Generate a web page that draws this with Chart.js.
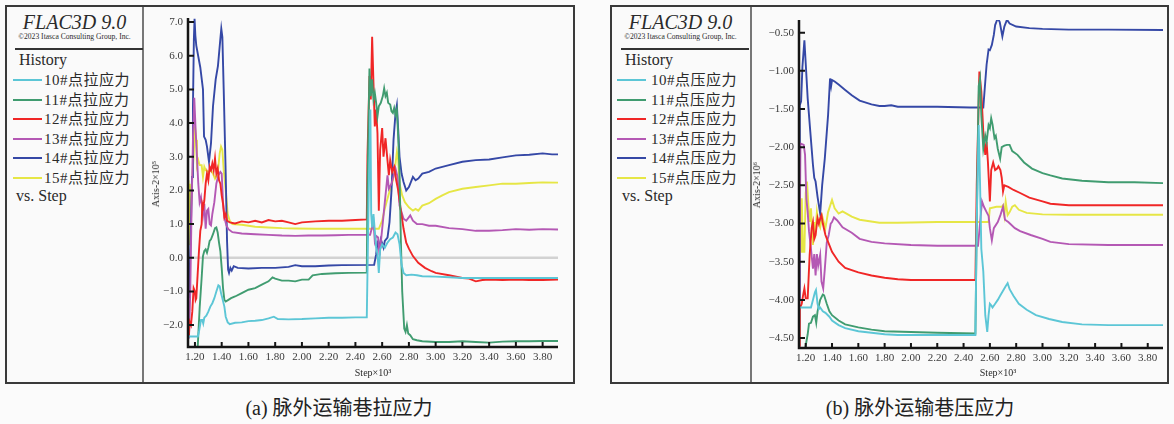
<!DOCTYPE html>
<html lang="zh">
<head>
<meta charset="utf-8">
<title>脉外运输巷应力 - FLAC3D History</title>
<script src="https://cdn.jsdelivr.net/npm/chart.js@4.4.1/dist/chart.umd.min.js"></script>
<style>
  body { margin: 0; width: 1174px; height: 424px; background: #fbfbfb; position: relative; overflow: hidden;
         font-family: "Liberation Serif", "Noto Sans CJK SC", serif; color: #2a2a2a; }
  .abs { position: absolute; white-space: nowrap; }
  .box { position: absolute; top: 5px; height: 379px; box-sizing: border-box; border: 2px solid #3a3a3a; background: #fafafa; }
  .divider { position: absolute; top: 7px; width: 1.5px; height: 375px; background: #777; }
  canvas { position: absolute; }
  .caption { position: absolute; top: 396px; font-size: 20px; line-height: 24px; font-family: "Liberation Serif", "Noto Sans CJK SC", serif; color: #222; transform: translateX(-50%); }
</style>
</head>
<body>

<!-- panel (a) -->
<div class="box" style="left:5px; width:570px;"></div>
<div class="divider" style="left:142px;"></div>
<canvas id="tensionChart" width="431" height="377" style="left:143px; top:6px;"></canvas>

<!-- panel (b) -->
<div class="box" style="left:610px; width:559px;"></div>
<div class="divider" style="left:750px;"></div>
<canvas id="compressChart" width="417" height="377" style="left:751px; top:6px;"></canvas>

<div class="caption" style="left:339px;">(a) 脉外运输巷拉应力</div>
<div class="caption" style="left:920px;">(b) 脉外运输巷压应力</div>

<script>
// ---- data (steps in 10^3, values in axis units) ----
const pointIds = ['10#', '11#', '12#', '13#', '14#', '15#'];
const lineColors = ['#5cc6d6', '#409c70', '#f02626', '#b458b4', '#3548a6', '#e6e645'];

const stepTicks = [1.2, 1.4, 1.6, 1.8, 2.0, 2.2, 2.4, 2.6, 2.8, 3.0, 3.2, 3.4, 3.6, 3.8];
const tensionTicks = [-2, -1, 0, 1, 2, 3, 4, 5, 6, 7];
const compressTicks = [-4.5, -4, -3.5, -3, -2.5, -2, -1.5, -1, -0.5];

// 拉应力 (x10^5)
const tension10 = [[1.148,-2.34],[1.222,-2.34],[1.232,-2.15],[1.245,-1.85],[1.255,-1.85],[1.262,-1.95],[1.27,-1.78],[1.285,-1.72],[1.30,-1.6],[1.315,-1.45],[1.33,-1.35],[1.345,-1.2],[1.36,-1.0],[1.375,-0.82],[1.385,-0.85],[1.395,-1.05],[1.405,-1.2],[1.42,-1.45],[1.43,-1.75],[1.445,-1.92],[1.46,-1.97],[1.50,-1.93],[1.55,-1.92],[1.60,-1.88],[1.65,-1.87],[1.70,-1.85],[1.75,-1.8],[1.79,-1.75],[1.82,-1.82],[1.90,-1.83],[2.00,-1.82],[2.10,-1.8],[2.20,-1.78],[2.30,-1.78],[2.40,-1.77],[2.485,-1.77],[2.49,-0.5],[2.50,2.0],[2.512,4.4],[2.518,1.3],[2.525,0.9],[2.535,1.3],[2.545,0.8],[2.555,0.3],[2.565,0.1],[2.575,-0.45],[2.585,0.25],[2.60,0.4],[2.62,0.3],[2.64,0.45],[2.66,0.55],[2.68,0.6],[2.70,0.75],[2.715,0.7],[2.73,0.4],[2.745,-0.2],[2.76,-0.45],[2.78,-0.52],[2.82,-0.5],[2.86,-0.52],[2.90,-0.55],[3.0,-0.56],[3.1,-0.58],[3.2,-0.6],[3.4,-0.6],[3.6,-0.6],[3.8,-0.6],[3.915,-0.6]];
const tension11 = [[1.15,-3.0],[1.205,-3.0],[1.22,-2.7],[1.235,-1.5],[1.25,-0.6],[1.26,0.05],[1.27,0.2],[1.28,0.25],[1.29,0.15],[1.30,0.3],[1.31,0.5],[1.32,0.55],[1.335,0.7],[1.35,0.88],[1.36,0.9],[1.37,0.75],[1.38,0.45],[1.39,0.2],[1.40,-0.3],[1.41,-0.9],[1.42,-1.25],[1.43,-1.3],[1.45,-1.25],[1.47,-1.2],[1.50,-1.15],[1.55,-1.05],[1.60,-0.95],[1.65,-0.9],[1.70,-0.8],[1.75,-0.7],[1.78,-0.58],[1.80,-0.62],[1.85,-0.68],[1.90,-0.68],[1.95,-0.7],[2.0,-0.65],[2.05,-0.65],[2.08,-0.52],[2.15,-0.48],[2.25,-0.46],[2.35,-0.45],[2.485,-0.44],[2.49,2.0],[2.505,5.62],[2.515,4.8],[2.525,5.3],[2.535,4.7],[2.545,4.9],[2.555,4.6],[2.565,4.2],[2.575,4.5],[2.59,4.6],[2.605,4.8],[2.615,5.03],[2.625,4.8],[2.635,4.9],[2.645,4.6],[2.66,4.55],[2.67,4.35],[2.68,4.3],[2.69,4.45],[2.70,4.25],[2.71,4.4],[2.72,3.6],[2.73,2.5],[2.74,0.5],[2.75,-1.0],[2.765,-2.1],[2.775,-2.2],[2.785,-2.0],[2.795,-2.25],[2.81,-2.3],[2.83,-2.42],[2.86,-2.45],[2.90,-2.48],[3.0,-2.5],[3.1,-2.5],[3.2,-2.48],[3.3,-2.5],[3.4,-2.52],[3.5,-2.49],[3.6,-2.48],[3.7,-2.48],[3.8,-2.47],[3.915,-2.47]];
const tension12 = [[1.148,-2.0],[1.155,-2.3],[1.16,-1.9],[1.17,-2.0],[1.18,-1.6],[1.19,-0.9],[1.20,-1.0],[1.205,-1.25],[1.21,-1.2],[1.22,-0.5],[1.23,0.2],[1.24,0.8],[1.25,1.0],[1.255,1.6],[1.262,1.5],[1.27,1.7],[1.28,2.2],[1.29,2.5],[1.30,2.3],[1.31,2.7],[1.32,2.6],[1.33,2.8],[1.34,2.6],[1.35,2.95],[1.36,2.5],[1.37,2.65],[1.38,2.3],[1.39,2.2],[1.40,1.85],[1.41,1.6],[1.42,1.2],[1.43,1.3],[1.44,1.1],[1.46,1.05],[1.50,1.02],[1.55,1.08],[1.60,1.05],[1.65,1.1],[1.70,1.05],[1.75,1.12],[1.80,1.08],[1.85,1.1],[1.90,1.05],[1.95,1.0],[2.0,1.05],[2.1,1.08],[2.2,1.1],[2.3,1.1],[2.4,1.12],[2.485,1.14],[2.49,3.0],[2.505,5.4],[2.515,4.7],[2.525,6.56],[2.535,5.2],[2.545,3.9],[2.555,4.4],[2.565,3.7],[2.575,1.4],[2.585,3.2],[2.60,3.85],[2.61,3.0],[2.625,3.55],[2.635,3.1],[2.65,2.45],[2.66,2.9],[2.675,2.55],[2.69,2.7],[2.705,2.3],[2.72,2.0],[2.74,1.4],[2.76,0.86],[2.78,0.45],[2.80,0.27],[2.83,0.05],[2.87,-0.15],[2.92,-0.3],[2.97,-0.4],[3.0,-0.45],[3.1,-0.52],[3.2,-0.6],[3.25,-0.62],[3.30,-0.7],[3.35,-0.66],[3.4,-0.65],[3.5,-0.66],[3.6,-0.65],[3.7,-0.66],[3.8,-0.66],[3.915,-0.65]];
const tension13 = [[1.148,-1.8],[1.155,-2.4],[1.165,-1.0],[1.175,1.5],[1.185,3.5],[1.195,4.75],[1.205,3.8],[1.215,3.0],[1.225,2.2],[1.235,1.65],[1.245,1.8],[1.26,1.26],[1.27,1.6],[1.28,0.86],[1.29,1.4],[1.30,1.45],[1.31,1.0],[1.32,0.96],[1.33,1.3],[1.345,1.65],[1.36,2.2],[1.375,2.45],[1.39,2.55],[1.40,2.5],[1.41,1.65],[1.42,1.2],[1.435,0.96],[1.45,0.85],[1.48,0.76],[1.55,0.72],[1.65,0.7],[1.75,0.68],[1.85,0.66],[1.95,0.65],[2.05,0.66],[2.15,0.66],[2.25,0.67],[2.35,0.68],[2.51,0.68],[2.535,1.06],[2.545,0.5],[2.555,0.65],[2.57,0.6],[2.58,0.07],[2.60,0.85],[2.62,1.65],[2.64,2.45],[2.65,2.05],[2.67,2.2],[2.70,2.65],[2.715,2.4],[2.73,1.55],[2.76,1.16],[2.78,1.1],[2.81,1.26],[2.83,1.1],[2.86,1.0],[2.90,1.0],[2.95,0.95],[3.0,0.95],[3.1,0.88],[3.2,0.85],[3.3,0.8],[3.4,0.8],[3.5,0.82],[3.6,0.85],[3.7,0.83],[3.8,0.85],[3.915,0.84]];
const tension14 = [[1.148,-0.5],[1.155,-1.2],[1.16,-0.6],[1.17,1.0],[1.178,2.4],[1.185,4.5],[1.192,6.5],[1.197,7.1],[1.203,6.6],[1.21,6.3],[1.24,5.65],[1.26,5.0],[1.268,3.6],[1.28,3.5],[1.29,3.3],[1.305,2.85],[1.32,3.4],[1.335,4.5],[1.355,5.3],[1.372,5.7],[1.39,6.5],[1.397,6.8],[1.405,6.55],[1.415,5.0],[1.43,2.5],[1.44,0.5],[1.448,-0.35],[1.455,-0.45],[1.465,-0.3],[1.475,-0.38],[1.49,-0.25],[1.52,-0.3],[1.60,-0.32],[1.70,-0.3],[1.80,-0.3],[1.90,-0.27],[1.95,-0.22],[2.0,-0.25],[2.1,-0.25],[2.2,-0.23],[2.3,-0.22],[2.54,-0.21],[2.555,0.1],[2.565,0.46],[2.58,0.35],[2.59,0.55],[2.61,0.3],[2.62,0.5],[2.64,0.6],[2.655,1.06],[2.67,2.0],[2.685,3.5],[2.70,4.3],[2.71,4.53],[2.72,3.8],[2.73,3.0],[2.745,2.5],[2.76,2.25],[2.78,2.0],[2.80,2.1],[2.83,2.4],[2.85,2.3],[2.87,2.35],[2.90,2.5],[2.95,2.55],[3.0,2.65],[3.1,2.75],[3.2,2.85],[3.3,2.9],[3.4,2.92],[3.5,2.98],[3.6,3.04],[3.7,3.06],[3.8,3.1],[3.87,3.07],[3.915,3.07]];
const tension15 = [[1.148,1.0],[1.152,2.3],[1.156,0.4],[1.162,2.2],[1.17,1.4],[1.18,2.4],[1.19,3.0],[1.20,3.9],[1.21,3.5],[1.215,2.75],[1.225,2.9],[1.235,2.75],[1.25,2.75],[1.26,2.4],[1.27,2.7],[1.28,2.6],[1.30,2.55],[1.32,2.6],[1.335,2.5],[1.35,2.35],[1.37,2.5],[1.385,3.1],[1.395,3.3],[1.405,3.2],[1.415,2.6],[1.43,2.0],[1.445,1.3],[1.46,1.1],[1.48,1.0],[1.55,0.98],[1.65,0.92],[1.75,0.9],[1.85,0.88],[1.95,0.87],[2.1,0.86],[2.3,0.86],[2.575,0.86],[2.60,1.1],[2.62,1.46],[2.65,1.9],[2.68,2.3],[2.70,2.8],[2.71,3.14],[2.72,2.9],[2.73,2.2],[2.75,1.85],[2.77,1.65],[2.80,1.5],[2.83,1.4],[2.85,1.45],[2.87,1.4],[2.90,1.55],[2.95,1.62],[3.0,1.75],[3.05,1.85],[3.1,1.95],[3.2,2.05],[3.3,2.1],[3.4,2.15],[3.5,2.2],[3.6,2.2],[3.7,2.22],[3.8,2.24],[3.915,2.23]];

// 压应力 (x10^6)
const compress10 = [[1.149,-4.1],[1.24,-4.1],[1.255,-4.0],[1.27,-3.9],[1.278,-3.87],[1.29,-4.05],[1.30,-4.12],[1.31,-4.1],[1.33,-4.15],[1.35,-4.17],[1.38,-4.22],[1.40,-4.27],[1.45,-4.33],[1.50,-4.37],[1.60,-4.41],[1.70,-4.43],[1.80,-4.45],[1.90,-4.46],[2.0,-4.46],[2.2,-4.46],[2.4,-4.46],[2.49,-4.46],[2.50,-3.0],[2.515,-1.71],[2.525,-2.45],[2.535,-3.33],[2.55,-3.63],[2.565,-4.2],[2.58,-4.42],[2.59,-4.2],[2.60,-4.05],[2.61,-4.07],[2.62,-4.1],[2.64,-4.05],[2.66,-4.0],[2.68,-3.94],[2.70,-3.88],[2.72,-3.82],[2.735,-3.78],[2.75,-3.86],[2.78,-3.95],[2.82,-4.05],[2.88,-4.13],[2.95,-4.2],[3.05,-4.25],[3.15,-4.29],[3.3,-4.32],[3.5,-4.33],[3.7,-4.33],[3.916,-4.33]];
const compress11 = [[1.149,-4.8],[1.19,-4.8],[1.20,-4.6],[1.215,-4.45],[1.225,-4.31],[1.24,-4.3],[1.255,-4.22],[1.27,-4.2],[1.28,-4.3],[1.29,-4.15],[1.31,-4.0],[1.33,-3.93],[1.34,-3.94],[1.36,-4.05],[1.38,-4.15],[1.40,-4.2],[1.45,-4.27],[1.50,-4.32],[1.60,-4.36],[1.70,-4.39],[1.80,-4.41],[2.0,-4.42],[2.2,-4.43],[2.49,-4.44],[2.50,-3.0],[2.515,-1.2],[2.525,-1.1],[2.535,-1.58],[2.55,-2.02],[2.565,-1.85],[2.575,-1.93],[2.59,-1.71],[2.60,-1.75],[2.61,-1.62],[2.62,-1.7],[2.635,-1.88],[2.645,-1.85],[2.66,-2.02],[2.678,-2.15],[2.69,-2.0],[2.71,-1.98],[2.73,-1.97],[2.75,-1.97],[2.77,-2.05],[2.81,-2.1],[2.86,-2.2],[2.92,-2.28],[3.0,-2.34],[3.06,-2.37],[3.15,-2.41],[3.3,-2.44],[3.5,-2.46],[3.7,-2.46],[3.916,-2.47]];
const compress12 = [[1.149,-4.6],[1.155,-4.11],[1.17,-4.05],[1.18,-3.94],[1.19,-3.85],[1.20,-3.98],[1.215,-3.98],[1.23,-3.41],[1.245,-3.06],[1.255,-2.98],[1.265,-3.2],[1.275,-3.15],[1.29,-2.93],[1.30,-3.0],[1.31,-2.93],[1.32,-2.89],[1.33,-3.0],[1.35,-3.15],[1.37,-3.24],[1.40,-3.37],[1.45,-3.5],[1.50,-3.58],[1.60,-3.64],[1.70,-3.68],[1.80,-3.71],[1.90,-3.73],[2.0,-3.74],[2.2,-3.74],[2.49,-3.74],[2.50,-2.5],[2.52,-1.01],[2.535,-1.27],[2.55,-1.8],[2.565,-2.1],[2.575,-1.93],[2.585,-2.19],[2.60,-2.71],[2.61,-2.3],[2.625,-2.2],[2.64,-2.3],[2.655,-2.28],[2.665,-2.25],[2.68,-2.3],[2.69,-2.4],[2.70,-2.58],[2.71,-2.5],[2.74,-2.52],[2.78,-2.56],[2.83,-2.6],[2.90,-2.66],[3.0,-2.71],[3.06,-2.74],[3.2,-2.76],[3.5,-2.76],[3.916,-2.76]];
const compress13 = [[1.149,-4.6],[1.16,-1.95],[1.185,-1.97],[1.195,-2.1],[1.205,-2.67],[1.215,-2.85],[1.225,-3.1],[1.24,-3.33],[1.255,-3.59],[1.265,-3.4],[1.275,-3.68],[1.285,-3.4],[1.295,-3.55],[1.31,-3.41],[1.32,-3.76],[1.333,-3.85],[1.345,-3.6],[1.36,-3.25],[1.375,-3.15],[1.39,-3.0],[1.40,-2.98],[1.415,-2.92],[1.44,-2.96],[1.48,-3.05],[1.55,-3.12],[1.61,-3.2],[1.70,-3.24],[1.80,-3.26],[2.0,-3.28],[2.2,-3.29],[2.51,-3.29],[2.525,-3.0],[2.54,-2.71],[2.555,-2.78],[2.575,-2.85],[2.59,-2.9],[2.60,-3.06],[2.615,-3.22],[2.63,-3.06],[2.66,-2.98],[2.68,-2.89],[2.70,-2.78],[2.715,-2.95],[2.74,-2.98],[2.79,-3.06],[2.83,-3.1],[2.91,-3.15],[3.0,-3.2],[3.06,-3.24],[3.2,-3.27],[3.5,-3.28],[3.916,-3.28]];
const compress14 = [[1.149,-4.0],[1.155,-1.45],[1.165,-1.4],[1.175,-0.95],[1.19,-0.6],[1.20,-0.9],[1.215,-1.36],[1.235,-1.8],[1.255,-2.23],[1.265,-2.4],[1.275,-2.45],[1.29,-2.65],[1.31,-2.87],[1.325,-2.5],[1.345,-2.15],[1.37,-1.58],[1.385,-1.1],[1.393,-1.2],[1.40,-1.12],[1.42,-1.14],[1.45,-1.18],[1.50,-1.25],[1.55,-1.32],[1.61,-1.39],[1.70,-1.44],[1.76,-1.46],[1.80,-1.46],[1.85,-1.45],[1.90,-1.47],[2.0,-1.47],[2.2,-1.47],[2.45,-1.48],[2.55,-1.48],[2.565,-1.14],[2.575,-0.92],[2.59,-0.72],[2.60,-0.73],[2.615,-0.66],[2.63,-0.53],[2.64,-0.4],[2.66,-0.31],[2.675,-0.36],[2.695,-0.55],[2.71,-0.42],[2.73,-0.33],[2.75,-0.38],[2.80,-0.42],[2.90,-0.44],[3.0,-0.45],[3.2,-0.46],[3.5,-0.46],[3.916,-0.465]];
const compress15 = [[1.149,-2.7],[1.155,-3.37],[1.165,-3.37],[1.17,-2.67],[1.18,-3.37],[1.19,-3.37],[1.20,-2.6],[1.21,-2.45],[1.22,-2.75],[1.23,-2.98],[1.24,-2.8],[1.255,-3.28],[1.265,-2.98],[1.275,-3.1],[1.285,-2.85],[1.295,-2.98],[1.31,-3.05],[1.325,-2.9],[1.35,-3.06],[1.37,-2.85],[1.40,-2.69],[1.42,-2.8],[1.45,-2.87],[1.48,-2.84],[1.55,-2.91],[1.61,-2.95],[1.76,-2.99],[1.90,-2.99],[2.2,-2.98],[2.59,-2.98],[2.60,-2.8],[2.65,-2.78],[2.69,-2.78],[2.70,-2.76],[2.71,-2.89],[2.72,-2.71],[2.735,-2.89],[2.75,-2.85],[2.77,-2.78],[2.79,-2.76],[2.82,-2.82],[2.88,-2.86],[3.0,-2.88],[3.2,-2.885],[3.916,-2.885]];

const tensionSeries = [tension10, tension11, tension12, tension13, tension14, tension15];
const compressSeries = [compress10, compress11, compress12, compress13, compress14, compress15];

// ---- legend blocks (HTML) ----
function addText(txt, css) {
  const d = document.createElement('div');
  d.className = 'abs';
  d.textContent = txt;
  d.style.cssText += css;
  document.body.appendChild(d);
  return d;
}

function buildLegend(x0, kind, lineX, textX) {
  addText('FLAC3D 9.0', `left:${x0}px; width:137px; top:10px; line-height:24px; text-align:center; font-style:italic; font-size:20px;`);
  addText('©2023 Itasca  Consulting Group, Inc.', `left:${x0}px; width:137px; top:32px; line-height:10px; text-align:center; font-size:7.6px;`);
  const rule = document.createElement('div');
  rule.style.cssText = `position:absolute; left:${x0 + 9}px; top:48px; width:128px; height:2px; background:#333;`;
  document.body.appendChild(rule);
  addText('History', `left:${x0 + 13}px; top:50px; line-height:20px; font-size:16px;`);
  pointIds.forEach((id, i) => {
    const cy = 80 + i * 19.6;
    const sw = document.createElement('div');
    sw.style.cssText = `position:absolute; left:${lineX}px; top:${cy - 1}px; width:29px; height:2px; background:${lineColors[i]};`;
    document.body.appendChild(sw);
    addText(id + '点' + kind + '应力', `left:${textX}px; top:${cy - 10}px; line-height:20px; font-size:15px; letter-spacing:0.5px;`);
  });
  addText('vs. Step', `left:${x0 + 10}px; top:186px; line-height:20px; font-size:16px;`);
}
buildLegend(6, '拉', 13, 44);
buildLegend(612, '压', 617, 651);

// axis titles
addText('Axis-2×10⁵', 'left:156px; top:184px; font-size:10px; line-height:12px; transform:translate(-50%,-50%) rotate(-90deg);');
addText('Axis-2×10⁶', 'left:757px; top:185px; font-size:10px; line-height:12px; transform:translate(-50%,-50%) rotate(-90deg);');
addText('Step×10³', 'left:373px; top:373px; font-size:10px; line-height:12px; transform:translate(-50%,-50%);');
addText('Step×10³', 'left:998px; top:373px; font-size:10px; line-height:12px; transform:translate(-50%,-50%);');

// ---- inward ticks, black axes and the grey zero line ----
const axisDecor = {
  id: 'axisDecor',
  beforeDatasetsDraw(chart, args, opts) {
    if (!opts.zeroLine) return;
    const { ctx, chartArea: a, scales: { y } } = chart;
    const py = y.getPixelForValue(0);
    ctx.save();
    ctx.strokeStyle = '#d2d2d2';
    ctx.lineWidth = 2.5;
    ctx.beginPath();
    ctx.moveTo(a.left, py);
    ctx.lineTo(a.right, py);
    ctx.stroke();
    ctx.restore();
  },
  afterDatasetsDraw(chart) {
    const { ctx, chartArea: a, scales: { x, y } } = chart;
    ctx.save();
    ctx.strokeStyle = '#151515';
    ctx.lineWidth = 2.5;
    ctx.beginPath();
    ctx.moveTo(a.left, a.top);
    ctx.lineTo(a.left, a.bottom);
    ctx.lineTo(a.right, a.bottom);
    ctx.stroke();
    ctx.lineWidth = 2;
    ctx.beginPath();
    y.ticks.forEach(t => {
      const p = y.getPixelForValue(t.value);
      ctx.moveTo(a.left, p);
      ctx.lineTo(a.left + 6, p);
    });
    x.ticks.forEach(t => {
      const p = x.getPixelForValue(t.value);
      ctx.moveTo(p, a.bottom);
      ctx.lineTo(p, a.bottom - 5);
    });
    ctx.stroke();
    ctx.restore();
  }
};

const tickFont = { family: "'Liberation Serif', 'DejaVu Serif', serif", size: 11 };
const fmt = (v, d) => {
  if (Math.abs(v) < 1e-9) v = 0;
  const s = Math.abs(v).toFixed(d);
  return v < 0 ? '\u2212' + s : s;
};

function makeChart(id, series, xr, yr, yTicks, yDigits, pad, zeroLine) {
  const ctx = document.getElementById(id).getContext('2d');
  return new Chart(ctx, {
    type: 'line',
    data: {
      datasets: series.map((pts, i) => ({
        label: pointIds[i],
        data: pts,
        borderColor: lineColors[i],
        borderWidth: 1.9,
        pointRadius: 0,
        tension: 0,
        fill: false
      }))
    },
    options: {
      responsive: false,
      animation: false,
      devicePixelRatio: 1,
      layout: { padding: pad },
      plugins: { legend: { display: false }, tooltip: { enabled: false }, axisDecor: { zeroLine } },
      scales: {
        x: {
          type: 'linear', min: xr[0], max: xr[1],
          grid: { display: false, drawTicks: false }, border: { display: false },
          afterBuildTicks: ax => { ax.ticks = stepTicks.map(v => ({ value: v })); },
          afterFit: ax => { ax.height = 20; },
          ticks: { padding: 4, color: '#3a3a3a', font: tickFont, maxRotation: 0, autoSkip: false,
                   callback: v => fmt(v, 2) }
        },
        y: {
          type: 'linear', min: yr[0], max: yr[1],
          grid: { display: false, drawTicks: false }, border: { display: false },
          afterBuildTicks: ax => { ax.ticks = yTicks.map(v => ({ value: v })); },
          afterFit: ax => { ax.width = 40; },
          ticks: { padding: 5, color: '#3a3a3a', font: tickFont, autoSkip: false,
                   callback: v => fmt(v, yDigits) }
        }
      }
    },
    plugins: [axisDecor]
  });
}

makeChart('tensionChart', tensionSeries, [1.148, 3.915], [-2.65, 7.12], tensionTicks, 1,
  { left: 5, right: 16, top: 12, bottom: 16 }, true);
makeChart('compressChart', compressSeries, [1.149, 3.916], [-4.63, -0.334], compressTicks, 2,
  { left: 8, right: 5, top: 14, bottom: 15 }, false);
</script>
</body>
</html>
